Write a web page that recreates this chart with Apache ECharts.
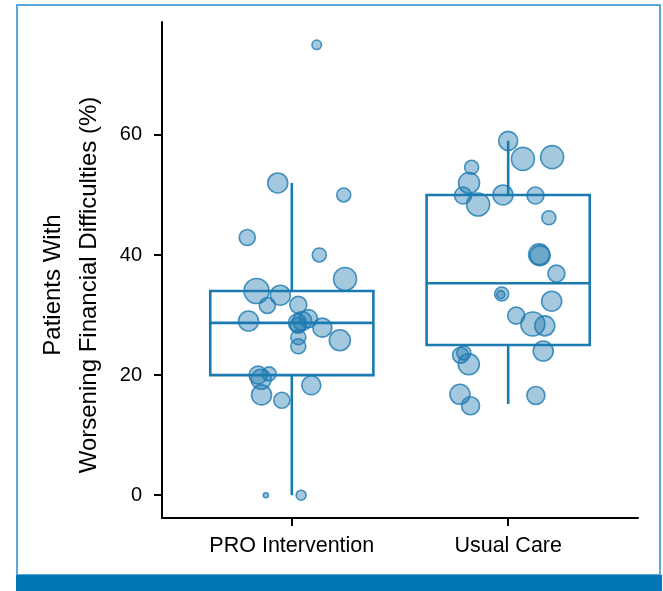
<!DOCTYPE html>
<html>
<head>
<meta charset="utf-8">
<script src="https://cdn.jsdelivr.net/npm/echarts@6/dist/echarts.min.js"></script>
<style>
  html, body { margin: 0; padding: 0; background: #ffffff; }
  #chart { width: 663px; height: 591px; }
</style>
</head>
<body>
<div id="chart"></div>
<script>
// Study arms on the x axis
const categories = ['PRO Intervention', 'Usual Care'];

// Box summaries per arm: whisker low, Q1, median, Q3, whisker high (%)
const boxLow    = [0,    15.2];
const boxQ1     = [20,   25];
const boxMedian = [28.7, 35.3];
const boxQ3     = [34,   50];
const boxHigh   = [52,   59];

// Site-level results, PRO Intervention arm
const proJitter = [0.115, -0.065, 0.24, -0.206, 0.127, 0.246, -0.163, -0.053, -0.113, 0.03, -0.2, 0.077, 0.026, 0.048, 0.029, 0.141, 0.222, 0.03, 0.03, -0.156, -0.142, -0.105, -0.14, -0.046, 0.09, -0.12, 0.043];
const proValue  = [75, 52, 50, 42.9, 40, 36, 34, 33.3, 31.6, 31.7, 29, 29.4, 28.7, 29, 28.3, 27.9, 25.8, 26.3, 24.8, 20, 19.3, 20.2, 16.7, 15.8, 18.3, 0, 0];
const proWeight = [9.5, 20, 14, 16, 14, 23, 25, 20, 16, 17, 20, 18, 18, 19, 16, 19, 21, 15, 15, 18, 20, 14, 20, 16, 19, 5, 10];

// Site-level results, Usual Care arm
const ucJitter = [0, 0.068, 0.203, -0.169, -0.181, -0.209, -0.139, -0.024, 0.126, 0.188, 0.143, 0.147, 0.223, -0.03, -0.034, 0.201, 0.037, 0.114, 0.169, 0.162, -0.22, -0.205, -0.182, -0.223, -0.174, 0.128];
const ucValue  = [59, 56, 56.3, 54.6, 52, 49.9, 48.4, 50, 49.9, 46.2, 40.1, 39.9, 36.9, 33.5, 33.4, 32.3, 29.9, 28.5, 28.2, 24, 23.3, 23.7, 21.8, 16.8, 14.9, 16.6];
const ucWeight = [19, 23, 23, 14, 21, 17, 23, 20, 17, 14, 21, 20, 17, 14, 8, 20, 17, 24, 20, 20, 16, 14, 21, 20, 18, 18];

// Y axis ticks
const yTicks = [0, 20, 40, 60];

const BLUE = '#1b7bb1';
const FILL = 'rgba(28,118,172,0.5)';
const FONT = 'Liberation Sans';
const INK = '#000';

function pointsFor(catIndex, jitter, values, weights) {
  return values.map((v, i) => [catIndex + 1 + jitter[i], v, weights[i]]);
}

const boxData = categories.map((c, i) => [i + 1, boxLow[i], boxQ1[i], boxMedian[i], boxQ3[i], boxHigh[i]]);

const chart = echarts.init(document.getElementById('chart'), null, { renderer: 'canvas' });

const option = {
  backgroundColor: '#ffffff',
  animation: false,
  graphic: [
    {
      type: 'rect', z: -10, silent: true,
      shape: { x: 17, y: 5, width: 643, height: 570 },
      style: { fill: '#ffffff', stroke: '#5aa8d8', lineWidth: 2 }
    },
    {
      type: 'rect', z: -5, silent: true,
      shape: { x: 16, y: 575, width: 646, height: 16 },
      style: { fill: '#0077b4' }
    }
  ],
  grid: { left: 162, right: 25, top: 22, bottom: 73 },
  xAxis: {
    type: 'value',
    min: 0.4,
    max: 2.6,
    splitLine: { show: false },
    axisLine: { show: true, onZero: false, lineStyle: { color: INK, width: 2 } },
    axisTick: { show: true, length: 8, lineStyle: { color: INK, width: 2 }, customValues: [1, 2] },
    axisLabel: {
      customValues: [1, 2],
      formatter: v => categories[Math.round(v) - 1] || '',
      color: INK, fontFamily: FONT, fontSize: 21.5, margin: 17
    }
  },
  yAxis: {
    type: 'value',
    min: -3.8,
    max: 78.8,
    name: 'Patients With\nWorsening Financial Difficulties (%)',
    nameLocation: 'middle',
    nameRotate: 90,
    nameGap: 55,
    nameTextStyle: { color: INK, fontFamily: FONT, fontSize: 24, lineHeight: 36, padding: [0, 30, 0, 0] },
    splitLine: { show: false },
    axisLine: { show: true, onZero: false, lineStyle: { color: INK, width: 2 } },
    axisTick: { show: true, length: 8, lineStyle: { color: INK, width: 2 }, customValues: yTicks },
    axisLabel: {
      customValues: yTicks,
      color: INK, fontFamily: FONT, fontSize: 20, margin: 20
    }
  },
  series: [
    {
      type: 'scatter',
      data: pointsFor(0, proJitter, proValue, proWeight),
      symbolSize: d => d[2],
      itemStyle: { color: FILL, borderColor: BLUE, borderWidth: 1.6 },
      z: 2
    },
    {
      type: 'scatter',
      data: pointsFor(1, ucJitter, ucValue, ucWeight),
      symbolSize: d => d[2],
      itemStyle: { color: FILL, borderColor: BLUE, borderWidth: 1.6 },
      z: 2
    },
    {
      type: 'custom',
      z: 3,
      data: boxData,
      renderItem: function (params, api) {
        const x = api.value(0);
        const half = api.size([0.377, 0])[0];
        const pLow = api.coord([x, api.value(1)]);
        const pQ1 = api.coord([x, api.value(2)]);
        const pMed = api.coord([x, api.value(3)]);
        const pQ3 = api.coord([x, api.value(4)]);
        const pHigh = api.coord([x, api.value(5)]);
        const ls = { stroke: BLUE, lineWidth: 2.6, fill: null };
        return {
          type: 'group',
          children: [
            { type: 'line', shape: { x1: pQ1[0], y1: pQ1[1], x2: pLow[0], y2: pLow[1] }, style: ls },
            { type: 'line', shape: { x1: pQ3[0], y1: pQ3[1], x2: pHigh[0], y2: pHigh[1] }, style: ls },
            { type: 'rect', shape: { x: pQ3[0] - half, y: pQ3[1], width: half * 2, height: pQ1[1] - pQ3[1] }, style: ls },
            { type: 'line', shape: { x1: pMed[0] - half, y1: pMed[1], x2: pMed[0] + half, y2: pMed[1] }, style: ls }
          ]
        };
      }
    }
  ]
};

chart.setOption(option);
</script>
</body>
</html>
